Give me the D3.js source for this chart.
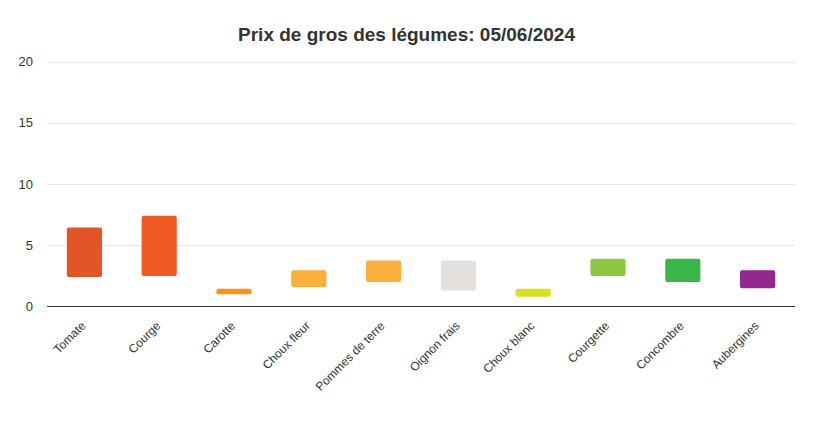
<!DOCTYPE html>
<html><head><meta charset="utf-8">
<script src="https://cdn.jsdelivr.net/npm/d3@7"></script>
<style>body{margin:0;background:#fff;}svg{display:block;font-family:"Liberation Sans",Arial,Helvetica,sans-serif;}</style>
</head><body>
<svg id="c" width="813" height="432"></svg>
<script>
const categories = ["Tomate","Courge","Carotte","Choux fleur","Pommes de terre","Oignon frais","Choux blanc","Courgette","Concombre","Aubergines"];
const lowValues  = [2.4, 2.5, 1.0, 1.6, 2.0, 1.3, 0.8, 2.5, 2.0, 1.5];
const highValues = [6.45, 7.4, 1.45, 2.95, 3.75, 3.75, 1.45, 3.9, 3.9, 2.95];
const colors = ["#E15526","#F15A24","#F7931E","#FBB03B","#FBB03B","#E3E0DD","#D9E021","#8DC63F","#39B54A","#93278F"];
const yTicks = [0,5,10,15,20];
const title = "Prix de gros des légumes: 05/06/2024";

const svg = d3.select("#c");
const m = {l:47, r:18, t:61.5, b:125.5};
const W = 813, H = 432;
const x = d3.scaleBand().domain(categories).range([m.l, W-m.r]).paddingInner(0.53).paddingOuter(0.265);
const y = d3.scaleLinear().domain([0,20]).range([H-m.b, m.t]);

svg.append("text").attr("x", 406.5).attr("y", 41).attr("text-anchor","middle")
  .attr("font-size", 19).attr("font-weight","bold").attr("fill","#333").text(title);

const gy = svg.append("g");
gy.selectAll("line").data(yTicks.filter(d=>d>0)).join("line")
  .attr("x1", m.l).attr("x2", W-m.r).attr("y1", d=>Math.round(y(d))+0.5).attr("y2", d=>Math.round(y(d))+0.5)
  .attr("stroke","#e6e6e6").attr("stroke-width",1);
gy.selectAll("text").data(yTicks).join("text")
  .attr("x", 33).attr("y", d=>y(d)+4.5).attr("text-anchor","end")
  .attr("font-size", 13).attr("fill","#333").text(d=>d);

const bars = svg.append("g");
categories.forEach((c,i)=>{
  bars.append("rect").attr("x", x(c)).attr("width", x.bandwidth())
    .attr("y", y(highValues[i])).attr("height", y(lowValues[i]) - y(highValues[i]))
    .attr("rx", 2).attr("fill", colors[i]);
});

svg.append("line").attr("x1", m.l).attr("x2", W-m.r).attr("y1", y(0)).attr("y2", y(0))
  .attr("stroke","#333").attr("stroke-width",1.2);

const gx = svg.append("g");
categories.forEach(c=>{
  const cx = x(c) + x.bandwidth()/2;
  gx.append("text").attr("transform", `translate(${cx+2},${y(0)+20}) rotate(-45)`)
    .attr("text-anchor","end").attr("font-size", 12).attr("fill","#333").text(c);
});
</script>
</body></html>
